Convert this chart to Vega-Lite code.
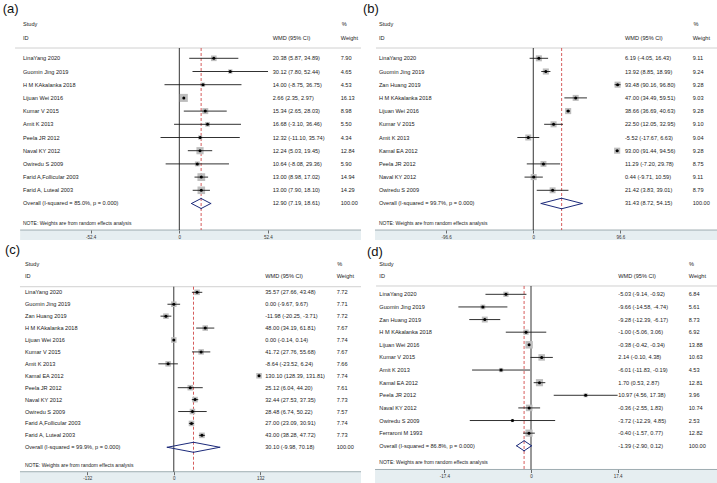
{
"$schema": "https://vega.github.io/schema/vega-lite/v6.json",
"padding": 0,
"background": "white",
"spacing": 0,
"config": {"view": {"stroke": null}, "font": "Liberation Sans", "text": {"font": "Liberation Sans"}, "axisY": {"disable": true}, "concat": {"spacing": 0}},
"datasets": {
"a": [
{"r":1,"study":"LinaYang 2020","est":20.38,"lo":5.87,"hi":34.89,"ci":"20.38 (5.87, 34.89)","w":7.90,"ov":0},
{"r":2,"study":"Guomin Jing 2019","est":30.12,"lo":7.80,"hi":52.44,"ci":"30.12 (7.80, 52.44)","w":4.65,"ov":0},
{"r":3,"study":"H M KAkalanka 2018","est":14.00,"lo":-8.75,"hi":36.75,"ci":"14.00 (-8.75, 36.75)","w":4.53,"ov":0},
{"r":4,"study":"Lijuan Wei 2016","est":2.66,"lo":2.35,"hi":2.97,"ci":"2.66 (2.35, 2.97)","w":16.13,"ov":0},
{"r":5,"study":"Kumar V 2015","est":15.34,"lo":2.65,"hi":28.03,"ci":"15.34 (2.65, 28.03)","w":8.98,"ov":0},
{"r":6,"study":"Amit K 2013","est":16.68,"lo":-3.10,"hi":36.46,"ci":"16.68 (-3.10, 36.46)","w":5.50,"ov":0},
{"r":7,"study":"Peela JR 2012","est":12.32,"lo":-11.10,"hi":35.74,"ci":"12.32 (-11.10, 35.74)","w":4.34,"ov":0},
{"r":8,"study":"Naval KY 2012","est":12.24,"lo":5.03,"hi":19.45,"ci":"12.24 (5.03, 19.45)","w":12.84,"ov":0},
{"r":9,"study":"Owiredu S 2009","est":10.64,"lo":-8.08,"hi":29.36,"ci":"10.64 (-8.08, 29.36)","w":5.90,"ov":0},
{"r":10,"study":"Farid A,Follicular 2003","est":13.00,"lo":8.98,"hi":17.02,"ci":"13.00 (8.98, 17.02)","w":14.94,"ov":0},
{"r":11,"study":"Farid A, Luteal 2003","est":13.00,"lo":7.90,"hi":18.10,"ci":"13.00 (7.90, 18.10)","w":14.29,"ov":0},
{"r":12,"study":"Overall  (I-squared = 85.0%, p = 0.000)","est":12.90,"lo":7.19,"hi":18.61,"ci":"12.90 (7.19, 18.61)","w":100.00,"ov":1}
],
"b": [
{"r":1,"study":"LinaYang 2020","est":6.19,"lo":-4.05,"hi":16.43,"ci":"6.19 (-4.05, 16.43)","w":9.11,"ov":0},
{"r":2,"study":"Guomin Jing 2019","est":13.92,"lo":8.85,"hi":18.99,"ci":"13.92 (8.85, 18.99)","w":9.24,"ov":0},
{"r":3,"study":"Zan Huang 2019","est":93.48,"lo":90.16,"hi":96.80,"ci":"93.48 (90.16, 96.80)","w":9.28,"ov":0},
{"r":4,"study":"H M KAkalanka 2018","est":47.00,"lo":34.49,"hi":59.51,"ci":"47.00 (34.49, 59.51)","w":9.03,"ov":0},
{"r":5,"study":"Lijuan Wei 2016","est":38.66,"lo":36.69,"hi":40.63,"ci":"38.66 (36.69, 40.63)","w":9.28,"ov":0},
{"r":6,"study":"Kumar V 2015","est":22.50,"lo":12.05,"hi":32.95,"ci":"22.50 (12.05, 32.95)","w":9.10,"ov":0},
{"r":7,"study":"Amit K 2013","est":-5.52,"lo":-17.67,"hi":6.63,"ci":"-5.52 (-17.67, 6.63)","w":9.04,"ov":0},
{"r":8,"study":"Kamal EA 2012","est":93.00,"lo":91.44,"hi":94.56,"ci":"93.00 (91.44, 94.56)","w":9.28,"ov":0},
{"r":9,"study":"Peela JR 2012","est":11.29,"lo":-7.20,"hi":29.78,"ci":"11.29 (-7.20, 29.78)","w":8.75,"ov":0},
{"r":10,"study":"Naval KY 2012","est":0.44,"lo":-9.71,"hi":10.59,"ci":"0.44 (-9.71, 10.59)","w":9.11,"ov":0},
{"r":11,"study":"Owiredu S 2009","est":21.42,"lo":3.83,"hi":39.01,"ci":"21.42 (3.83, 39.01)","w":8.79,"ov":0},
{"r":12,"study":"Overall  (I-squared = 99.7%, p = 0.000)","est":31.43,"lo":8.72,"hi":54.15,"ci":"31.43 (8.72, 54.15)","w":100.00,"ov":1}
],
"c": [
{"r":1,"study":"LinaYang 2020","est":35.57,"lo":27.66,"hi":43.48,"ci":"35.57 (27.66, 43.48)","w":7.72,"ov":0},
{"r":2,"study":"Guomin Jing 2019","est":0.00,"lo":-9.67,"hi":9.67,"ci":"0.00 (-9.67, 9.67)","w":7.71,"ov":0},
{"r":3,"study":"Zan Huang 2019","est":-11.98,"lo":-20.25,"hi":-3.71,"ci":"-11.98 (-20.25, -3.71)","w":7.72,"ov":0},
{"r":4,"study":"H M KAkalanka 2018","est":48.00,"lo":34.19,"hi":61.81,"ci":"48.00 (34.19, 61.81)","w":7.67,"ov":0},
{"r":5,"study":"Lijuan Wei 2016","est":0.00,"lo":-0.14,"hi":0.14,"ci":"0.00 (-0.14, 0.14)","w":7.74,"ov":0},
{"r":6,"study":"Kumar V 2015","est":41.72,"lo":27.76,"hi":55.68,"ci":"41.72 (27.76, 55.68)","w":7.67,"ov":0},
{"r":7,"study":"Amit K 2013","est":-8.64,"lo":-23.52,"hi":6.24,"ci":"-8.64 (-23.52, 6.24)","w":7.66,"ov":0},
{"r":8,"study":"Kamal EA 2012","est":130.10,"lo":128.39,"hi":131.81,"ci":"130.10 (128.39, 131.81)","w":7.74,"ov":0},
{"r":9,"study":"Peela JR 2012","est":25.12,"lo":6.04,"hi":44.20,"ci":"25.12 (6.04, 44.20)","w":7.61,"ov":0},
{"r":10,"study":"Naval KY 2012","est":32.44,"lo":27.53,"hi":37.35,"ci":"32.44 (27.53, 37.35)","w":7.73,"ov":0},
{"r":11,"study":"Owiredu S 2009","est":28.48,"lo":6.74,"hi":50.22,"ci":"28.48 (6.74, 50.22)","w":7.57,"ov":0},
{"r":12,"study":"Farid A,Follicular 2003","est":27.00,"lo":23.09,"hi":30.91,"ci":"27.00 (23.09, 30.91)","w":7.74,"ov":0},
{"r":13,"study":"Farid A, Luteal 2003","est":43.00,"lo":38.28,"hi":47.72,"ci":"43.00 (38.28, 47.72)","w":7.73,"ov":0},
{"r":14,"study":"Overall  (I-squared = 99.9%, p = 0.000)","est":30.10,"lo":-9.98,"hi":70.18,"ci":"30.10 (-9.98, 70.18)","w":100.00,"ov":1}
],
"d": [
{"r":1,"study":"LinaYang 2020","est":-5.03,"lo":-9.14,"hi":-0.92,"ci":"-5.03 (-9.14, -0.92)","w":6.84,"ov":0},
{"r":2,"study":"Guomin Jing 2019","est":-9.66,"lo":-14.58,"hi":-4.74,"ci":"-9.66 (-14.58, -4.74)","w":5.61,"ov":0},
{"r":3,"study":"Zan Huang 2019","est":-9.28,"lo":-12.39,"hi":-6.17,"ci":"-9.28 (-12.39, -6.17)","w":8.73,"ov":0},
{"r":4,"study":"H M KAkalanka 2018","est":-1.00,"lo":-5.06,"hi":3.06,"ci":"-1.00 (-5.06, 3.06)","w":6.92,"ov":0},
{"r":5,"study":"Lijuan Wei 2016","est":-0.38,"lo":-0.42,"hi":-0.34,"ci":"-0.38 (-0.42, -0.34)","w":13.88,"ov":0},
{"r":6,"study":"Kumar V 2015","est":2.14,"lo":-0.10,"hi":4.38,"ci":"2.14 (-0.10, 4.38)","w":10.63,"ov":0},
{"r":7,"study":"Amit K 2013","est":-6.01,"lo":-11.83,"hi":-0.19,"ci":"-6.01 (-11.83, -0.19)","w":4.53,"ov":0},
{"r":8,"study":"Kamal EA 2012","est":1.70,"lo":0.53,"hi":2.87,"ci":"1.70 (0.53, 2.87)","w":12.81,"ov":0},
{"r":9,"study":"Peela JR 2012","est":10.97,"lo":4.56,"hi":17.38,"ci":"10.97 (4.56, 17.38)","w":3.96,"ov":0},
{"r":10,"study":"Naval KY 2012","est":-0.36,"lo":-2.55,"hi":1.83,"ci":"-0.36 (-2.55, 1.83)","w":10.74,"ov":0},
{"r":11,"study":"Owiredu S 2009","est":-3.72,"lo":-12.29,"hi":4.85,"ci":"-3.72 (-12.29, 4.85)","w":2.53,"ov":0},
{"r":12,"study":"Ferraroni M 1993","est":-0.40,"lo":-1.57,"hi":0.77,"ci":"-0.40 (-1.57, 0.77)","w":12.82,"ov":0},
{"r":13,"study":"Overall  (I-squared = 86.8%, p = 0.000)","est":-1.39,"lo":-2.90,"hi":0.12,"ci":"-1.39 (-2.90, 0.12)","w":100.00,"ov":1}
]
},
"vconcat": [
{"spacing": 0, "hconcat": [
{
"width": 361, "height": 241,
"layer": [
{"data": {"values": [{}]}, "mark": {"type": "rect", "color": "#e6eef1"},
 "encoding": {
  "x": {"datum": -94.1, "scale": {"domain": [-106.0, 107.4], "nice": false, "zero": false},
        "axis": {"values": [-52.4, 0, 52.4], "offset": -11, "domain": false, "grid": false, "tickSize": 3, "tickColor": "#333", "tickWidth": 0.7, "labelFontSize": 4.5, "labelColor": "#333", "labelPadding": 1, "title": null, "labelExpr": "'' + datum.value", "labelOverlap": false, "zindex": 2}},
  "x2": {"datum": 107.4},
  "y": {"datum": 14.01, "scale": {"domain": [-3.417, 14.841], "reverse": true, "nice": false, "zero": false}},
  "y2": {"datum": 14.76}}},
{"data": {"values": [{}]}, "mark": {"type": "rule", "color": "#8a9aa0", "strokeWidth": 0.8}, "encoding": {"x": {"datum": -94.1}, "x2": {"datum": 107.4}, "y": {"datum": 14.01}}},
{"data": {"values": [{}]}, "mark": {"type": "rule", "color": "#c4c4c4", "strokeWidth": 0.8}, "encoding": {"x": {"datum": -97.1}, "x2": {"datum": 107.4}, "y": {"datum": 0.22}}},
{"data": {"values": [{}]}, "mark": {"type": "rule", "color": "#000", "strokeWidth": 0.8}, "encoding": {"x": {"datum": 0}, "y": {"datum": 0.22}, "y2": {"datum": 14.01}}},
{"data": {"name": "a"}, "transform": [{"filter": "datum.ov == 1"}], "mark": {"type": "rule", "color": "#cc3333", "strokeWidth": 0.8, "strokeDash": [3, 2]}, "encoding": {"x": {"field": "est", "type": "quantitative"}, "y": {"datum": 0.22}, "y2": {"datum": 14.01}}},
{"data": {"name": "a"}, "transform": [{"filter": "datum.ov == 0"}], "mark": {"type": "point", "shape": "square", "filled": true, "color": "#bdbdbd", "opacity": 1}, "encoding": {"x": {"field": "est", "type": "quantitative"}, "y": {"field": "r", "type": "quantitative"}, "size": {"field": "w", "type": "quantitative", "scale": {"domain": [0, 16], "range": [0, 64]}, "legend": null}}},
{"data": {"name": "a"}, "transform": [{"filter": "datum.ov == 0"}], "mark": {"type": "rule", "color": "#1a1a1a", "strokeWidth": 0.9}, "encoding": {"x": {"field": "lo", "type": "quantitative"}, "x2": {"field": "hi"}, "y": {"field": "r", "type": "quantitative"}}},
{"data": {"name": "a"}, "transform": [{"filter": "datum.ov == 0"}], "mark": {"type": "point", "shape": "circle", "filled": true, "color": "#000", "size": 9, "opacity": 1}, "encoding": {"x": {"field": "est", "type": "quantitative"}, "y": {"field": "r", "type": "quantitative"}}},
{"data": {"name": "a"}, "transform": [{"filter": "datum.ov == 1"}, {"fold": ["lo", "hi"], "as": ["k", "xv"]}], "mark": {"type": "rule", "color": "#1c2a7a", "strokeWidth": 1, "strokeCap": "round"}, "encoding": {"x": {"field": "xv", "type": "quantitative"}, "x2": {"field": "est"}, "y": {"field": "r", "type": "quantitative"}, "y2": {"datum": 11.62}}},
{"data": {"name": "a"}, "transform": [{"filter": "datum.ov == 1"}, {"fold": ["lo", "hi"], "as": ["k", "xv"]}], "mark": {"type": "rule", "color": "#1c2a7a", "strokeWidth": 1, "strokeCap": "round"}, "encoding": {"x": {"field": "xv", "type": "quantitative"}, "x2": {"field": "est"}, "y": {"field": "r", "type": "quantitative"}, "y2": {"datum": 12.38}}},
{"data": {"name": "a"}, "mark": {"type": "text", "align": "left", "baseline": "middle", "fontSize": 5.6, "color": "#222"}, "encoding": {"x": {"datum": -92.4}, "y": {"field": "r", "type": "quantitative"}, "text": {"field": "study"}}},
{"data": {"name": "a"}, "mark": {"type": "text", "align": "left", "baseline": "middle", "fontSize": 5.6, "color": "#222"}, "encoding": {"x": {"datum": 55.2}, "y": {"field": "r", "type": "quantitative"}, "text": {"field": "ci"}}},
{"data": {"name": "a"}, "mark": {"type": "text", "align": "left", "baseline": "middle", "fontSize": 5.6, "color": "#222"}, "encoding": {"x": {"datum": 95.4}, "y": {"field": "r", "type": "quantitative"}, "text": {"field": "w", "format": ".2f"}}},
{"data": {"values": [{}]}, "mark": {"type": "text", "align": "left", "baseline": "middle", "fontSize": 5.6, "color": "#222", "text": "Study"}, "encoding": {"x": {"datum": -92.4}, "y": {"datum": -1.6}}},
{"data": {"values": [{}]}, "mark": {"type": "text", "align": "left", "baseline": "middle", "fontSize": 5.6, "color": "#222", "text": "ID"}, "encoding": {"x": {"datum": -92.4}, "y": {"datum": -0.54}}},
{"data": {"values": [{}]}, "mark": {"type": "text", "align": "left", "baseline": "middle", "fontSize": 5.6, "color": "#222", "text": "%"}, "encoding": {"x": {"datum": 96.0}, "y": {"datum": -1.6}}},
{"data": {"values": [{}]}, "mark": {"type": "text", "align": "left", "baseline": "middle", "fontSize": 5.6, "color": "#222", "text": "WMD (95% CI)"}, "encoding": {"x": {"datum": 55.2}, "y": {"datum": -0.54}}},
{"data": {"values": [{}]}, "mark": {"type": "text", "align": "left", "baseline": "middle", "fontSize": 5.6, "color": "#222", "text": "Weight"}, "encoding": {"x": {"datum": 95.4}, "y": {"datum": -0.54}}},
{"data": {"values": [{}]}, "mark": {"type": "text", "align": "left", "baseline": "middle", "fontSize": 5.0, "color": "#222", "text": "NOTE: Weights are from random effects analysis"}, "encoding": {"x": {"datum": -92.4}, "y": {"datum": 13.48}}},
{"data": {"values": [{}]}, "mark": {"type": "text", "align": "left", "baseline": "middle", "fontSize": 13, "color": "#111", "text": "(a)"}, "encoding": {"x": {"datum": -104.4}, "y": {"datum": -2.73}}}
]
},
{
"width": 356, "height": 241,
"layer": [
{"data": {"values": [{}]}, "mark": {"type": "rect", "color": "#e6eef1"},
 "encoding": {
  "x": {"datum": -175.5, "scale": {"domain": [-189.9, 204.8], "nice": false, "zero": false},
        "axis": {"values": [-96.6, 0, 96.6], "offset": -11, "domain": false, "grid": false, "tickSize": 3, "tickColor": "#333", "tickWidth": 0.7, "labelFontSize": 4.5, "labelColor": "#333", "labelPadding": 1, "title": null, "labelExpr": "'' + datum.value", "labelOverlap": false, "zindex": 2}},
  "x2": {"datum": 204.8},
  "y": {"datum": 14.01, "scale": {"domain": [-3.417, 14.841], "reverse": true, "nice": false, "zero": false}},
  "y2": {"datum": 14.76}}},
{"data": {"values": [{}]}, "mark": {"type": "rule", "color": "#8a9aa0", "strokeWidth": 0.8}, "encoding": {"x": {"datum": -175.5}, "x2": {"datum": 204.8}, "y": {"datum": 14.01}}},
{"data": {"values": [{}]}, "mark": {"type": "rule", "color": "#c4c4c4", "strokeWidth": 0.8}, "encoding": {"x": {"datum": -174.4}, "x2": {"datum": 204.8}, "y": {"datum": 0.22}}},
{"data": {"values": [{}]}, "mark": {"type": "rule", "color": "#000", "strokeWidth": 0.8}, "encoding": {"x": {"datum": 0}, "y": {"datum": 0.22}, "y2": {"datum": 14.01}}},
{"data": {"name": "b"}, "transform": [{"filter": "datum.ov == 1"}], "mark": {"type": "rule", "color": "#cc3333", "strokeWidth": 0.8, "strokeDash": [3, 2]}, "encoding": {"x": {"field": "est", "type": "quantitative"}, "y": {"datum": 0.22}, "y2": {"datum": 14.01}}},
{"data": {"name": "b"}, "transform": [{"filter": "datum.ov == 0"}], "mark": {"type": "point", "shape": "square", "filled": true, "color": "#bdbdbd", "opacity": 1}, "encoding": {"x": {"field": "est", "type": "quantitative"}, "y": {"field": "r", "type": "quantitative"}, "size": {"field": "w", "type": "quantitative", "scale": {"domain": [0, 16], "range": [0, 40]}, "legend": null}}},
{"data": {"name": "b"}, "transform": [{"filter": "datum.ov == 0"}], "mark": {"type": "rule", "color": "#1a1a1a", "strokeWidth": 0.9}, "encoding": {"x": {"field": "lo", "type": "quantitative"}, "x2": {"field": "hi"}, "y": {"field": "r", "type": "quantitative"}}},
{"data": {"name": "b"}, "transform": [{"filter": "datum.ov == 0"}], "mark": {"type": "point", "shape": "circle", "filled": true, "color": "#000", "size": 9, "opacity": 1}, "encoding": {"x": {"field": "est", "type": "quantitative"}, "y": {"field": "r", "type": "quantitative"}}},
{"data": {"name": "b"}, "transform": [{"filter": "datum.ov == 1"}, {"fold": ["lo", "hi"], "as": ["k", "xv"]}], "mark": {"type": "rule", "color": "#1c2a7a", "strokeWidth": 1, "strokeCap": "round"}, "encoding": {"x": {"field": "xv", "type": "quantitative"}, "x2": {"field": "est"}, "y": {"field": "r", "type": "quantitative"}, "y2": {"datum": 11.6}}},
{"data": {"name": "b"}, "transform": [{"filter": "datum.ov == 1"}, {"fold": ["lo", "hi"], "as": ["k", "xv"]}], "mark": {"type": "rule", "color": "#1c2a7a", "strokeWidth": 1, "strokeCap": "round"}, "encoding": {"x": {"field": "xv", "type": "quantitative"}, "x2": {"field": "est"}, "y": {"field": "r", "type": "quantitative"}, "y2": {"datum": 12.4}}},
{"data": {"name": "b"}, "mark": {"type": "text", "align": "left", "baseline": "middle", "fontSize": 5.6, "color": "#222"}, "encoding": {"x": {"datum": -171.1}, "y": {"field": "r", "type": "quantitative"}, "text": {"field": "study"}}},
{"data": {"name": "b"}, "mark": {"type": "text", "align": "left", "baseline": "middle", "fontSize": 5.6, "color": "#222"}, "encoding": {"x": {"datum": 101.7}, "y": {"field": "r", "type": "quantitative"}, "text": {"field": "ci"}}},
{"data": {"name": "b"}, "mark": {"type": "text", "align": "left", "baseline": "middle", "fontSize": 5.6, "color": "#222"}, "encoding": {"x": {"datum": 176.7}, "y": {"field": "r", "type": "quantitative"}, "text": {"field": "w", "format": ".2f"}}},
{"data": {"values": [{}]}, "mark": {"type": "text", "align": "left", "baseline": "middle", "fontSize": 5.6, "color": "#222", "text": "Study"}, "encoding": {"x": {"datum": -171.1}, "y": {"datum": -1.6}}},
{"data": {"values": [{}]}, "mark": {"type": "text", "align": "left", "baseline": "middle", "fontSize": 5.6, "color": "#222", "text": "ID"}, "encoding": {"x": {"datum": -171.1}, "y": {"datum": -0.54}}},
{"data": {"values": [{}]}, "mark": {"type": "text", "align": "left", "baseline": "middle", "fontSize": 5.6, "color": "#222", "text": "%"}, "encoding": {"x": {"datum": 177.5}, "y": {"datum": -1.6}}},
{"data": {"values": [{}]}, "mark": {"type": "text", "align": "left", "baseline": "middle", "fontSize": 5.6, "color": "#222", "text": "WMD (95% CI)"}, "encoding": {"x": {"datum": 101.7}, "y": {"datum": -0.54}}},
{"data": {"values": [{}]}, "mark": {"type": "text", "align": "left", "baseline": "middle", "fontSize": 5.6, "color": "#222", "text": "Weight"}, "encoding": {"x": {"datum": 176.7}, "y": {"datum": -0.54}}},
{"data": {"values": [{}]}, "mark": {"type": "text", "align": "left", "baseline": "middle", "fontSize": 5.0, "color": "#222", "text": "NOTE: Weights are from random effects analysis"}, "encoding": {"x": {"datum": -171.1}, "y": {"datum": 13.48}}},
{"data": {"values": [{}]}, "mark": {"type": "text", "align": "left", "baseline": "middle", "fontSize": 13, "color": "#111", "text": "(b)"}, "encoding": {"x": {"datum": -188.8}, "y": {"datum": -2.73}}}
]
}
]},
{"spacing": 0, "hconcat": [
{
"width": 361, "height": 242,
"layer": [
{"data": {"values": [{}]}, "mark": {"type": "rect", "color": "#e6eef1"},
 "encoding": {
  "x": {"datum": -234.7, "scale": {"domain": [-265.2, 285.7], "nice": false, "zero": false},
        "axis": {"values": [-132, 0, 132], "offset": -11.3, "domain": false, "grid": false, "tickSize": 3, "tickColor": "#333", "tickWidth": 0.7, "labelFontSize": 4.5, "labelColor": "#333", "labelPadding": 1, "title": null, "labelExpr": "'' + datum.value", "labelOverlap": false, "zindex": 2}},
  "x2": {"datum": 285.7},
  "y": {"datum": 16.05, "scale": {"domain": [-3.305, 16.997], "reverse": true, "nice": false, "zero": false}},
  "y2": {"datum": 16.997}}},
{"data": {"values": [{}]}, "mark": {"type": "rule", "color": "#8a9aa0", "strokeWidth": 0.8}, "encoding": {"x": {"datum": -234.7}, "x2": {"datum": 285.7}, "y": {"datum": 16.05}}},
{"data": {"values": [{}]}, "mark": {"type": "rule", "color": "#c4c4c4", "strokeWidth": 0.8}, "encoding": {"x": {"datum": -234.7}, "x2": {"datum": 285.7}, "y": {"datum": 0.53}}},
{"data": {"values": [{}]}, "mark": {"type": "rule", "color": "#000", "strokeWidth": 0.8}, "encoding": {"x": {"datum": 0}, "y": {"datum": 0.53}, "y2": {"datum": 16.05}}},
{"data": {"name": "c"}, "transform": [{"filter": "datum.ov == 1"}], "mark": {"type": "rule", "color": "#cc3333", "strokeWidth": 0.8, "strokeDash": [3, 2]}, "encoding": {"x": {"field": "est", "type": "quantitative"}, "y": {"datum": 0.53}, "y2": {"datum": 16.05}}},
{"data": {"name": "c"}, "transform": [{"filter": "datum.ov == 0"}], "mark": {"type": "point", "shape": "square", "filled": true, "color": "#bdbdbd", "opacity": 1}, "encoding": {"x": {"field": "est", "type": "quantitative"}, "y": {"field": "r", "type": "quantitative"}, "size": {"field": "w", "type": "quantitative", "scale": {"domain": [0, 16], "range": [0, 52]}, "legend": null}}},
{"data": {"name": "c"}, "transform": [{"filter": "datum.ov == 0"}], "mark": {"type": "rule", "color": "#1a1a1a", "strokeWidth": 0.9}, "encoding": {"x": {"field": "lo", "type": "quantitative"}, "x2": {"field": "hi"}, "y": {"field": "r", "type": "quantitative"}}},
{"data": {"name": "c"}, "transform": [{"filter": "datum.ov == 0"}], "mark": {"type": "point", "shape": "circle", "filled": true, "color": "#000", "size": 9, "opacity": 1}, "encoding": {"x": {"field": "est", "type": "quantitative"}, "y": {"field": "r", "type": "quantitative"}}},
{"data": {"name": "c"}, "transform": [{"filter": "datum.ov == 1"}, {"fold": ["lo", "hi"], "as": ["k", "xv"]}], "mark": {"type": "rule", "color": "#1c2a7a", "strokeWidth": 1, "strokeCap": "round"}, "encoding": {"x": {"field": "xv", "type": "quantitative"}, "x2": {"field": "est"}, "y": {"field": "r", "type": "quantitative"}, "y2": {"datum": 13.58}}},
{"data": {"name": "c"}, "transform": [{"filter": "datum.ov == 1"}, {"fold": ["lo", "hi"], "as": ["k", "xv"]}], "mark": {"type": "rule", "color": "#1c2a7a", "strokeWidth": 1, "strokeCap": "round"}, "encoding": {"x": {"field": "xv", "type": "quantitative"}, "x2": {"field": "est"}, "y": {"field": "r", "type": "quantitative"}, "y2": {"datum": 14.42}}},
{"data": {"name": "c"}, "mark": {"type": "text", "align": "left", "baseline": "middle", "fontSize": 5.6, "color": "#222"}, "encoding": {"x": {"datum": -227.1}, "y": {"field": "r", "type": "quantitative"}, "text": {"field": "study"}}},
{"data": {"name": "c"}, "mark": {"type": "text", "align": "left", "baseline": "middle", "fontSize": 5.6, "color": "#222"}, "encoding": {"x": {"datum": 139.6}, "y": {"field": "r", "type": "quantitative"}, "text": {"field": "ci"}}},
{"data": {"name": "c"}, "mark": {"type": "text", "align": "left", "baseline": "middle", "fontSize": 5.6, "color": "#222"}, "encoding": {"x": {"datum": 248.6}, "y": {"field": "r", "type": "quantitative"}, "text": {"field": "w", "format": ".2f"}}},
{"data": {"values": [{}]}, "mark": {"type": "text", "align": "left", "baseline": "middle", "fontSize": 5.6, "color": "#222", "text": "Study"}, "encoding": {"x": {"datum": -227.1}, "y": {"datum": -1.35}}},
{"data": {"values": [{}]}, "mark": {"type": "text", "align": "left", "baseline": "middle", "fontSize": 5.6, "color": "#222", "text": "ID"}, "encoding": {"x": {"datum": -227.1}, "y": {"datum": -0.37}}},
{"data": {"values": [{}]}, "mark": {"type": "text", "align": "left", "baseline": "middle", "fontSize": 5.6, "color": "#222", "text": "%"}, "encoding": {"x": {"datum": 249.5}, "y": {"datum": -1.35}}},
{"data": {"values": [{}]}, "mark": {"type": "text", "align": "left", "baseline": "middle", "fontSize": 5.6, "color": "#222", "text": "WMD (95% CI)"}, "encoding": {"x": {"datum": 139.6}, "y": {"datum": -0.37}}},
{"data": {"values": [{}]}, "mark": {"type": "text", "align": "left", "baseline": "middle", "fontSize": 5.6, "color": "#222", "text": "Weight"}, "encoding": {"x": {"datum": 248.6}, "y": {"datum": -0.37}}},
{"data": {"values": [{}]}, "mark": {"type": "text", "align": "left", "baseline": "middle", "fontSize": 5.0, "color": "#222", "text": "NOTE: Weights are from random effects analysis"}, "encoding": {"x": {"datum": -227.1}, "y": {"datum": 15.49}}},
{"data": {"values": [{}]}, "mark": {"type": "text", "align": "left", "baseline": "middle", "fontSize": 13, "color": "#111", "text": "(c)"}, "encoding": {"x": {"datum": -257.6}, "y": {"datum": -2.55}}}
]
},
{
"width": 356, "height": 242,
"layer": [
{"data": {"values": [{}]}, "mark": {"type": "rect", "color": "#e6eef1"},
 "encoding": {
  "x": {"datum": -31.3, "scale": {"domain": [-33.92, 37.53], "nice": false, "zero": false},
        "axis": {"values": [-17.4, 0, 17.4], "offset": -13.5, "domain": false, "grid": false, "tickSize": 3, "tickColor": "#333", "tickWidth": 0.7, "labelFontSize": 4.5, "labelColor": "#333", "labelPadding": 1, "title": null, "labelExpr": "'' + datum.value", "labelOverlap": false, "zindex": 2}},
  "x2": {"datum": 37.53},
  "y": {"datum": 14.88, "scale": {"domain": [-3.225, 15.95], "reverse": true, "nice": false, "zero": false}},
  "y2": {"datum": 15.95}}},
{"data": {"values": [{}]}, "mark": {"type": "rule", "color": "#8a9aa0", "strokeWidth": 0.8}, "encoding": {"x": {"datum": -31.3}, "x2": {"datum": 37.53}, "y": {"datum": 14.88}}},
{"data": {"values": [{}]}, "mark": {"type": "rule", "color": "#c4c4c4", "strokeWidth": 0.8}, "encoding": {"x": {"datum": -31.1}, "x2": {"datum": 37.53}, "y": {"datum": 0.34}}},
{"data": {"values": [{}]}, "mark": {"type": "rule", "color": "#000", "strokeWidth": 0.8}, "encoding": {"x": {"datum": 0}, "y": {"datum": 0.34}, "y2": {"datum": 14.88}}},
{"data": {"name": "d"}, "transform": [{"filter": "datum.ov == 1"}], "mark": {"type": "rule", "color": "#cc3333", "strokeWidth": 0.8, "strokeDash": [3, 2]}, "encoding": {"x": {"field": "est", "type": "quantitative"}, "y": {"datum": 0.34}, "y2": {"datum": 14.88}}},
{"data": {"name": "d"}, "transform": [{"filter": "datum.ov == 0"}], "mark": {"type": "point", "shape": "square", "filled": true, "color": "#bdbdbd", "opacity": 1}, "encoding": {"x": {"field": "est", "type": "quantitative"}, "y": {"field": "r", "type": "quantitative"}, "size": {"field": "w", "type": "quantitative", "scale": {"domain": [0, 16], "range": [0, 70]}, "legend": null}}},
{"data": {"name": "d"}, "transform": [{"filter": "datum.ov == 0"}], "mark": {"type": "rule", "color": "#1a1a1a", "strokeWidth": 0.9}, "encoding": {"x": {"field": "lo", "type": "quantitative"}, "x2": {"field": "hi"}, "y": {"field": "r", "type": "quantitative"}}},
{"data": {"name": "d"}, "transform": [{"filter": "datum.ov == 0"}], "mark": {"type": "point", "shape": "circle", "filled": true, "color": "#000", "size": 9, "opacity": 1}, "encoding": {"x": {"field": "est", "type": "quantitative"}, "y": {"field": "r", "type": "quantitative"}}},
{"data": {"name": "d"}, "transform": [{"filter": "datum.ov == 1"}, {"fold": ["lo", "hi"], "as": ["k", "xv"]}], "mark": {"type": "rule", "color": "#1c2a7a", "strokeWidth": 1, "strokeCap": "round"}, "encoding": {"x": {"field": "xv", "type": "quantitative"}, "x2": {"field": "est"}, "y": {"field": "r", "type": "quantitative"}, "y2": {"datum": 12.6}}},
{"data": {"name": "d"}, "transform": [{"filter": "datum.ov == 1"}, {"fold": ["lo", "hi"], "as": ["k", "xv"]}], "mark": {"type": "rule", "color": "#1c2a7a", "strokeWidth": 1, "strokeCap": "round"}, "encoding": {"x": {"field": "xv", "type": "quantitative"}, "x2": {"field": "est"}, "y": {"field": "r", "type": "quantitative"}, "y2": {"datum": 13.4}}},
{"data": {"name": "d"}, "mark": {"type": "text", "align": "left", "baseline": "middle", "fontSize": 5.6, "color": "#222"}, "encoding": {"x": {"datum": -30.44}, "y": {"field": "r", "type": "quantitative"}, "text": {"field": "study"}}},
{"data": {"name": "d"}, "mark": {"type": "text", "align": "left", "baseline": "middle", "fontSize": 5.6, "color": "#222"}, "encoding": {"x": {"datum": 17.52}, "y": {"field": "r", "type": "quantitative"}, "text": {"field": "ci"}}},
{"data": {"name": "d"}, "mark": {"type": "text", "align": "left", "baseline": "middle", "fontSize": 5.6, "color": "#222"}, "encoding": {"x": {"datum": 31.65}, "y": {"field": "r", "type": "quantitative"}, "text": {"field": "w", "format": ".2f"}}},
{"data": {"values": [{}]}, "mark": {"type": "text", "align": "left", "baseline": "middle", "fontSize": 5.6, "color": "#222", "text": "Study"}, "encoding": {"x": {"datum": -30.44}, "y": {"datum": -1.38}}},
{"data": {"values": [{}]}, "mark": {"type": "text", "align": "left", "baseline": "middle", "fontSize": 5.6, "color": "#222", "text": "ID"}, "encoding": {"x": {"datum": -30.44}, "y": {"datum": -0.45}}},
{"data": {"values": [{}]}, "mark": {"type": "text", "align": "left", "baseline": "middle", "fontSize": 5.6, "color": "#222", "text": "%"}, "encoding": {"x": {"datum": 31.7}, "y": {"datum": -1.38}}},
{"data": {"values": [{}]}, "mark": {"type": "text", "align": "left", "baseline": "middle", "fontSize": 5.6, "color": "#222", "text": "WMD (95% CI)"}, "encoding": {"x": {"datum": 17.52}, "y": {"datum": -0.45}}},
{"data": {"values": [{}]}, "mark": {"type": "text", "align": "left", "baseline": "middle", "fontSize": 5.6, "color": "#222", "text": "Weight"}, "encoding": {"x": {"datum": 31.65}, "y": {"datum": -0.45}}},
{"data": {"values": [{}]}, "mark": {"type": "text", "align": "left", "baseline": "middle", "fontSize": 5.0, "color": "#222", "text": "NOTE: Weights are from random effects analysis"}, "encoding": {"x": {"datum": -30.44}, "y": {"datum": 14.26}}},
{"data": {"values": [{}]}, "mark": {"type": "text", "align": "left", "baseline": "middle", "fontSize": 13, "color": "#111", "text": "(d)"}, "encoding": {"x": {"datum": -32.92}, "y": {"datum": -2.39}}}
]
}
]}
]
}
